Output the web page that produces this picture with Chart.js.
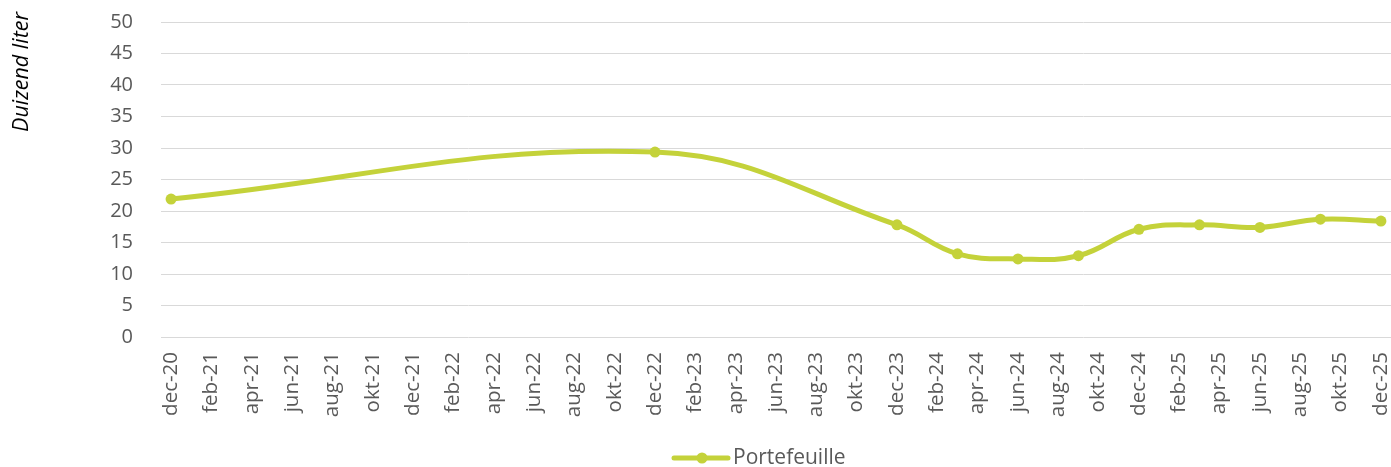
<!DOCTYPE html>
<html>
<head>
<meta charset="utf-8">
<script src="https://cdn.jsdelivr.net/npm/chart.js@4.4.1/dist/chart.umd.min.js"></script>
<style>
  html, body { margin: 0; padding: 0; background: #ffffff; }
  #wrap { width: 1391px; height: 467px; position: relative; }
</style>
</head>
<body>
<div id="wrap"><canvas id="c" width="1391" height="467"></canvas></div>
<script>
// ---- data ----
const monthNames = ['jan','feb','mrt','apr','mei','jun','jul','aug','sep','okt','nov','dec'];
const tickLabels = ['dec-20','feb-21','apr-21','jun-21','aug-21','okt-21','dec-21','feb-22','apr-22','jun-22','aug-22','okt-22','dec-22','feb-23','apr-23','jun-23','aug-23','okt-23','dec-23','feb-24','apr-24','jun-24','aug-24','okt-24','dec-24','feb-25','apr-25','jun-25','aug-25','okt-25','dec-25'];
const pointMonths = ['dec-20','dec-22','dec-23','mrt-24','jun-24','sep-24','dec-24','mrt-25','jun-25','sep-25','dec-25'];
const portefeuille = [21.9, 29.35, 17.8, 13.2, 12.4, 12.9, 17.1, 17.8, 17.4, 18.7, 18.4];
const seriesLabel = 'Portefeuille';
const yTitle = 'Duizend liter';

// month index relative to dec-20
function monthIndex(lbl) {
  const [m, y] = lbl.split('-');
  return (parseInt(y, 10) - 20) * 12 + monthNames.indexOf(m) - 11;
}
const tickMap = {};
tickLabels.forEach(l => { tickMap[monthIndex(l)] = l; });
const points = pointMonths.map((m, i) => ({ x: monthIndex(m), y: portefeuille[i] }));

const GREEN = '#c4d23a';
const TXT = '#595959';
const FONT = "'Open Sans', sans-serif";

const overlay = {
  id: 'overlay',
  afterDraw(chart) {
    const ctx = chart.ctx;
    ctx.save();
    // y axis title
    ctx.translate(22, 12);
    ctx.rotate(-Math.PI / 2);
    ctx.font = "italic 21.5px " + FONT;
    ctx.fillStyle = '#000000';
    ctx.textAlign = 'right';
    ctx.textBaseline = 'middle';
    ctx.fillText(yTitle, 0, 0);
    ctx.restore();

    // legend
    ctx.save();
    const ly = 458;
    ctx.strokeStyle = GREEN;
    ctx.lineWidth = 5;
    ctx.lineCap = 'round';
    ctx.beginPath();
    ctx.moveTo(674, ly);
    ctx.lineTo(728, ly);
    ctx.stroke();
    ctx.fillStyle = GREEN;
    ctx.beginPath();
    ctx.arc(702, ly, 5.5, 0, Math.PI * 2);
    ctx.fill();
    ctx.font = "21px " + FONT;
    ctx.fillStyle = TXT;
    ctx.textAlign = 'left';
    ctx.textBaseline = 'middle';
    ctx.fillText(seriesLabel, 733, ly);
    ctx.restore();
  }
};

new Chart(document.getElementById('c'), {
  type: 'line',
  data: {
    datasets: [{
      label: seriesLabel,
      data: points,
      borderColor: GREEN,
      backgroundColor: GREEN,
      borderWidth: 5,
      pointRadius: 5.5,
      pointHoverRadius: 5.5,
      pointBackgroundColor: GREEN,
      pointBorderWidth: 0,
      tension: 0.4,
      fill: false,
      clip: false
    }]
  },
  options: {
    responsive: false,
    animation: false,
    events: [],
    layout: { autoPadding: false, padding: { top: 22, right: 0, bottom: 0, left: 0 } },
    plugins: { legend: { display: false }, tooltip: { enabled: false } },
    scales: {
      x: {
        type: 'linear',
        min: -0.5,
        max: 60.5,
        grid: { display: false, drawTicks: false },
        border: { display: false },
        afterBuildTicks(scale) {
          scale.ticks = tickLabels.map(l => ({ value: monthIndex(l) }));
        },
        afterFit(scale) {
          scale.height = 130;
          scale.paddingLeft = 0;
          scale.paddingRight = 0;
        },
        ticks: {
          autoSkip: false,
          maxRotation: 90,
          minRotation: 90,
          padding: 15,
          color: TXT,
          font: { family: FONT, size: 20.5 },
          callback: v => tickMap[v] || ''
        }
      },
      y: {
        min: 0,
        max: 50,
        grid: { color: '#d9d9d9', lineWidth: 1, drawTicks: false },
        border: { display: false },
        afterFit(scale) {
          scale.width = 161;
          scale.paddingTop = 0;
          scale.paddingBottom = 0;
        },
        ticks: {
          stepSize: 5,
          padding: 28,
          color: TXT,
          font: { family: FONT, size: 20 }
        }
      }
    }
  },
  plugins: [overlay]
});
</script>
</body>
</html>
